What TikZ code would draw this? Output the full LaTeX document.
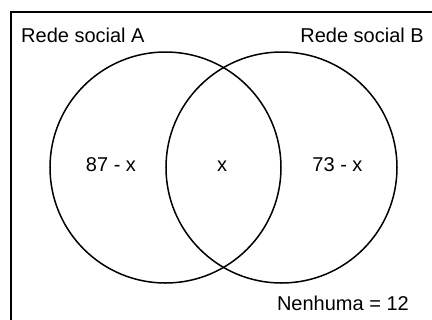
\documentclass[tikz,border=0pt]{standalone}
\usepackage{fontspec}
\setmainfont{Liberation Sans}
\begin{document}
\begin{tikzpicture}[x=1bp,y=-1bp,
  lbl/.style={inner sep=0pt,font=\fontsize{20bp}{23bp}\selectfont},
  setc/.style={draw=black,line width=1.5bp}]
\useasboundingbox (0,0) rectangle (432,320);
\coordinate (bl) at (11,330);
\coordinate (tl) at (11,12);
\coordinate (tr) at (445,12);
\draw[line width=1.5bp] (bl) -- (tl) -- (tr);
\node[setc,circle,minimum size=231bp,inner sep=0pt] (A) at (165.5,167.5) {};
\node[setc,circle,minimum size=231bp,inner sep=0pt] (B) at (281.5,167.5) {};
\node[lbl,anchor=base west] (la) at (21,42) {Rede social A};
\node[lbl,anchor=base east] (lb) at (424,42) {Rede social B};
\node[lbl,anchor=base] (a) at (111,171) {87 - x};
\node[lbl,anchor=base] (ab) at (222,171) {x};
\node[lbl,anchor=base] (b) at (337.5,171) {73 - x};
\node[lbl,anchor=base east] (n) at (409,310) {Nenhuma = 12};
\end{tikzpicture}
\end{document}
